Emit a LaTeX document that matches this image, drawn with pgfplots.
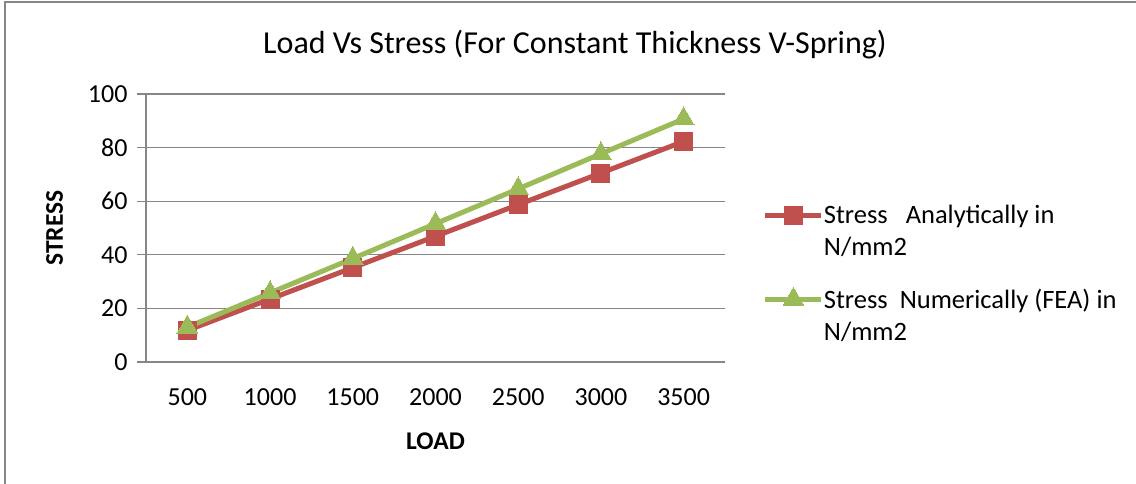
\documentclass[border=0pt]{standalone}
\usepackage{pgfplots}
\pgfplotsset{compat=1.18}
\usepackage{fontspec}
\setmainfont{Carlito}
\definecolor{redS}{RGB}{192,80,77}
\definecolor{greenS}{RGB}{155,187,89}
\definecolor{gridG}{RGB}{134,134,134}
\begin{document}
\begin{tikzpicture}[x=1pt,y=1pt]
\path[use as bounding box] (0,0) rectangle (1136,484);
\draw[gridG,line width=1.5pt] (5,0) -- (5,482) -- (1136,482);
\node[font=\fontsize{32}{38}\selectfont] at (575,439) {Load Vs Stress (For Constant Thickness V-Spring)};
\begin{axis}[
  at={(146pt,122pt)}, anchor=south west,
  scale only axis, width=579pt, height=268pt,
  xmin=-0.5, xmax=6.5, ymin=0, ymax=100,
  xtick={0,1,2,3,4,5,6},
  xticklabels={500,1000,1500,2000,2500,3000,3500},
  ytick={0,20,40,60,80,100},
  axis x line*=bottom, axis y line*=left,
  axis line style={gridG,line width=1.2pt,-},
  ymajorgrids, grid style={gridG,line width=1.2pt},
  major y tick style={gridG,line width=1.2pt},
  major tick length=9pt,
  xtick style={draw=none},
  tick align=outside,
  /pgf/number format/assume math mode=true,
  ticklabel style={font=\fontsize{26}{31}\selectfont, text=black},
  yticklabel style={xshift=-6pt},
  xticklabel style={yshift=-14pt},
  xlabel={\textbf{LOAD}}, ylabel={\textbf{STRESS}},
  label style={font=\fontsize{25.5}{30}\selectfont},
  xlabel style={yshift=-20pt},
  ylabel style={yshift=18pt},
  legend style={at={(1.06,0.33)}, anchor=west, draw=none, fill=none,
    font=\fontsize{26.5}{32}\selectfont, row sep=30pt,
    nodes={align=left, inner sep=0pt}},
  legend cell align=left,
  legend image code/.code={
    \draw[yshift=16pt,mark repeat=2,mark phase=2,#1] plot coordinates {(0pt,0pt) (28pt,0pt) (56pt,0pt)};
  },
]
\addplot[redS, line width=5pt, mark=square*, mark size=9pt, mark options={line width=0pt}]
  coordinates {(0,11.8) (1,23.5) (2,35.2) (3,46.9) (4,58.7) (5,70.5) (6,82.3)};
\addlegendentry{Stress\ \ \ Analytically in\\N/mm2}
\addplot[greenS, line width=5pt, mark=triangle*, mark size=12pt, mark options={line width=0pt}]
  coordinates {(0,13.0) (1,25.8) (2,38.6) (3,51.6) (4,64.6) (5,77.7) (6,90.7)};
\addlegendentry{Stress\ \ Numerically (FEA) in\\N/mm2}
\end{axis}
\end{tikzpicture}
\end{document}
